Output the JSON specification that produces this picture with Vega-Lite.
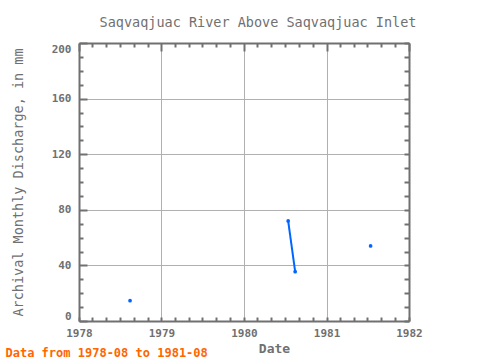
{
  "$schema": "https://vega.github.io/schema/vega-lite/v6.json",
  "width": 330,
  "height": 278,
  "autosize": "none",
  "padding": {"left": 79, "top": 43, "right": 71, "bottom": 39},
  "background": "white",
  "title": {
    "text": "Saqvaqjuac River Above Saqvaqjuac Inlet",
    "font": "DejaVu Sans Mono",
    "fontSize": 13.5,
    "fontWeight": "normal",
    "color": "#707070",
    "anchor": "middle",
    "dx": 14,
    "offset": 13
  },
  "config": {
    "view": {"stroke": null},
    "axis": {
      "labelFont": "DejaVu Sans Mono",
      "titleFont": "DejaVu Sans Mono",
      "labelColor": "#707070",
      "titleColor": "#707070",
      "domainColor": "#707070",
      "tickColor": "#707070",
      "gridColor": "#b0b0b0"
    }
  },
  "data": {
    "values": [
      {"date": "1978-08-15", "value": 14.6, "seg": "a"},
      {"date": "1980-07-15", "value": 72, "seg": "b"},
      {"date": "1980-08-15", "value": 35.5, "seg": "b"},
      {"date": "1981-07-15", "value": 54, "seg": "c"}
    ]
  },
  "layer": [
    {
      "mark": {"type": "line", "color": "#0066ff", "strokeWidth": 2},
      "encoding": {
        "x": {
          "field": "date", "type": "temporal",
          "scale": {"domain": ["1978-01-01T00:00:00", "1982-01-01T00:00:00"], "nice": false},
          "axis": {
            "orient": "bottom",
            "tickCount": {"interval": "month", "step": 2},
            "labelExpr": "month(datum.value) == 0 ? timeFormat(datum.value, '%Y') : ''",
            "labelFontSize": 11,
            "labelFontWeight": "bold",
            "labelPadding": 10,
            "labelOverlap": false,
            "labelFlush": false,
            "tickSize": -4,
            "tickWidth": 2,
            "domainWidth": 2,
            "grid": true,
            "gridOpacity": {"condition": {"test": "month(datum.value) == 0", "value": 1}, "value": 0},
            "title": "Date",
            "titleFontSize": 13,
            "titleFontWeight": "bold",
            "titleX": 195,
            "titleY": 31,
            "titleBaseline": "alphabetic"
          }
        },
        "y": {
          "field": "value", "type": "quantitative",
          "scale": {"domain": [0, 200], "nice": false},
          "axis": {
            "orient": "left",
            "values": [0,10,20,30,40,50,60,70,80,90,100,110,120,130,140,150,160,170,180,190,200],
            "labelExpr": "datum.value % 40 == 0 ? datum.value : ''",
            "labelFontSize": 11,
            "labelFontWeight": "bold",
            "labelPadding": 16,
            "labelFlush": true,
            "tickSize": {"condition": {"test": "datum.value % 40 == 0", "value": -8}, "value": -4},
            "tickWidth": 2,
            "domainWidth": 2,
            "grid": true,
            "gridOpacity": {"condition": {"test": "datum.value % 40 == 0 && datum.value > 0 && datum.value < 200", "value": 1}, "value": 0},
            "title": "Archival Monthly Discharge, in mm",
            "titleFontSize": 13.5,
            "titleFontWeight": "normal",
            "titleX": -61,
            "titleY": 139,
            "titleAlign": "center",
            "titleBaseline": "middle",
            "titleAngle": -90
          }
        },
        "detail": {"field": "seg"}
      }
    },
    {
      "mark": {"type": "point", "filled": true, "color": "#0066ff", "size": 14, "opacity": 1},
      "encoding": {
        "x": {
          "field": "date", "type": "temporal",
          "axis": {
            "orient": "top",
            "tickCount": {"interval": "month", "step": 2},
            "labels": false,
            "tickSize": {"condition": {"test": "month(datum.value) == 0", "value": -8}, "value": -4},
            "tickWidth": 2,
            "domainWidth": 2,
            "grid": false,
            "title": null
          }
        },
        "y": {
          "field": "value", "type": "quantitative",
          "axis": {
            "orient": "right",
            "values": [0,10,20,30,40,50,60,70,80,90,100,110,120,130,140,150,160,170,180,190,200],
            "labels": false,
            "tickSize": -5,
            "tickWidth": 2,
            "domainWidth": 2,
            "grid": false,
            "title": null
          }
        }
      }
    },
    {
      "mark": {"type": "point", "opacity": 0},
      "encoding": {
        "x": {
          "field": "date", "type": "temporal",
          "axis": {
            "orient": "bottom",
            "offset": 0,
            "labels": false,
            "ticks": false,
            "domain": false,
            "grid": false,
            "title": "Data from 1978-08 to 1981-08",
            "titleColor": "#ff6600",
            "titleFontSize": 12,
            "titleFontWeight": "bold",
            "titleAnchor": "start",
            "titleAlign": "left",
            "titleX": -74,
            "titleY": 35,
            "titleBaseline": "alphabetic"
          }
        },
        "y": {"field": "value", "type": "quantitative", "axis": null}
      }
    }
  ],
  "resolve": {"axis": {"x": "independent", "y": "independent"}}
}
